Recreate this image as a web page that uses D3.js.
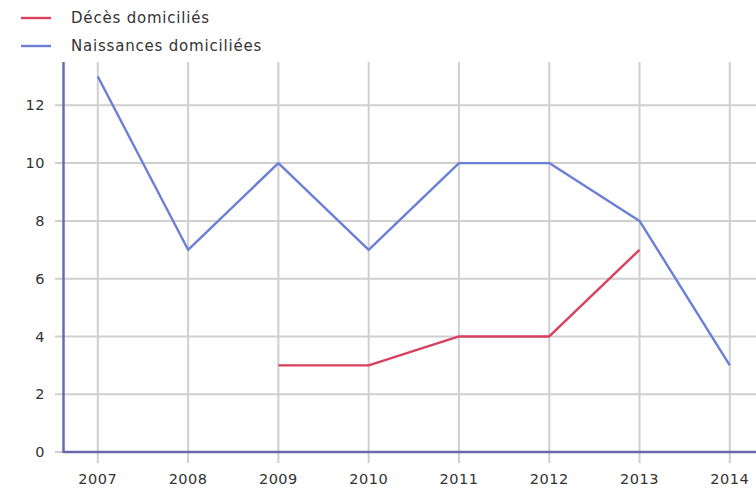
<!DOCTYPE html>
<html><head><meta charset="utf-8">
<script src="https://cdn.jsdelivr.net/npm/d3@7"></script>
<style>body{margin:0;background:#fff}svg{display:block}text{font-family:"DejaVu Sans",Verdana,sans-serif}</style>
</head><body><svg id="c" width="756" height="488"></svg>
<script>
const years = [2007, 2008, 2009, 2010, 2011, 2012, 2013, 2014];
const deces = [null, null, 3, 3, 4, 4, 7, null];
const naissances = [13, 7, 10, 7, 10, 10, 8, 3];
const yTicks = [0, 2, 4, 6, 8, 10, 12];
const seriesNames = ["Décès domiciliés", "Naissances domiciliées"];
const colors = ["#d9405e", "#6a7fd6"];

const svg = d3.select("#c");
const x = d3.scaleLinear().domain([2006.62, 2014.29]).range([63.5, 756]);
const y = d3.scaleLinear().domain([0, 13.5]).range([452, 62]);

// grid
const g = svg.append("g");
g.selectAll(".hg").data(yTicks).join("line")
  .attr("x1", 55).attr("x2", 756).attr("y1", d => y(d)).attr("y2", d => y(d))
  .attr("stroke", "#cfcfcf").attr("stroke-width", 2);
g.selectAll(".vg").data(years).join("line")
  .attr("x1", d => x(d)).attr("x2", d => x(d)).attr("y1", 62).attr("y2", 463)
  .attr("stroke", "#cfcfcf").attr("stroke-width", 2);

// tick labels
svg.selectAll(".yl").data(yTicks).join("text")
  .attr("x", 45).attr("y", d => y(d)).attr("dy", "0.35em").attr("text-anchor", "end")
  .attr("font-size", 14.5).attr("letter-spacing", 0.5).attr("fill", "#333").text(d => d);
svg.selectAll(".xl").data(years).join("text")
  .attr("x", d => x(d)).attr("y", 484).attr("text-anchor", "middle")
  .attr("font-size", 14.5).attr("letter-spacing", 0.5).attr("fill", "#333").text(d => d);

// axes lines
svg.append("line").attr("x1", x.range()[0]).attr("x2", x.range()[0]).attr("y1", 62).attr("y2", 453)
  .attr("stroke", "#6b6aae").attr("stroke-width", 2.5);
svg.append("line").attr("x1", x.range()[0]).attr("x2", 756).attr("y1", y(0)).attr("y2", y(0))
  .attr("stroke", "#6b6aae").attr("stroke-width", 2.5);

// lines
const line = d3.line().defined(d => d[1] != null).x(d => x(d[0])).y(d => y(d[1]));
[deces, naissances].forEach((s, i) => {
  svg.append("path").datum(years.map((yr, j) => [yr, s[j]]))
    .attr("d", line).attr("fill", "none").attr("stroke", colors[i]).attr("stroke-width", 2.4)
    .attr("stroke-linejoin", "round");
});

// legend
seriesNames.forEach((n, i) => {
  const ly = 18 + i * 28;
  svg.append("line").attr("x1", 21).attr("x2", 51).attr("y1", ly).attr("y2", ly)
    .attr("stroke", colors[i]).attr("stroke-width", 2.4);
  svg.append("text").attr("x", 71).attr("y", ly).attr("dy", "0.35em")
    .attr("font-size", 15).attr("letter-spacing", 0.8).attr("fill", "#333").text(n);
});
</script></body></html>
